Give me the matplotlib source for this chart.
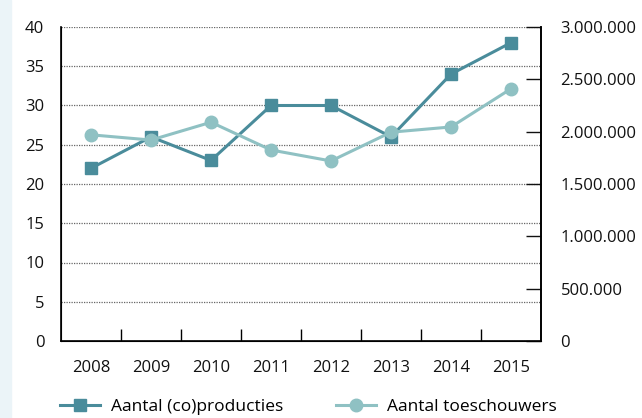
import matplotlib.pyplot as plt
from matplotlib.ticker import FuncFormatter
from matplotlib.lines import Line2D

plt.rcParams['font.family'] = ['Open Sans', 'DejaVu Sans']

years = ['2008', '2009', '2010', '2011', '2012', '2013', '2014', '2015']
producties = [22, 26, 23, 30, 30, 26, 34, 38]
toeschouwers = [1970000, 1920000, 2090000, 1825000, 1720000, 1995000, 2045000, 2410000]

dark = '#4a8c9b'
light = '#8fc1c3'

fig = plt.figure(figsize=(6.42, 4.18), dpi=100)
# light strip on the left edge
fig.patches.append(plt.Rectangle((0, 0), 11 / 642, 1, transform=fig.transFigure,
                                 color='#ebf4f8', zorder=0))

ax = fig.add_axes([61 / 642, 1 - 341 / 418, 480 / 642, 314 / 418])
x = range(len(years))
ax.plot(x, producties, color=dark, lw=2.2, marker='s', ms=9, zorder=3)
ax.set_xlim(-0.5, 7.5)
ax.set_ylim(0, 40)
ax.set_yticks(range(0, 41, 5))
ax.yaxis.grid(True, linestyle=(0, (1, 1)), color='#666666', lw=0.9)
ax.set_axisbelow(True)
ax.tick_params(axis='y', length=0, pad=12, labelsize=12, colors='#111111')
ax.set_xticks(x)
ax.set_xticklabels(years)
ax.set_xticks([i + 0.5 for i in range(7)], minor=True)
ax.tick_params(axis='x', which='major', length=0, pad=14, labelsize=12, colors='#111111')
ax.tick_params(axis='x', which='minor', length=9, direction='in', width=1)
ax.spines['top'].set_visible(False)
for s in ['left', 'bottom', 'right']:
    ax.spines[s].set_linewidth(1.2)

ax2 = ax.twinx()
ax2.plot(x, toeschouwers, color=light, lw=2.2, marker='o', ms=9, zorder=3)
ax2.set_ylim(0, 3000000)
ax2.set_yticks(range(0, 3000001, 500000))
ax2.yaxis.set_major_formatter(FuncFormatter(lambda v, p: f'{int(v):,}'.replace(',', '.')))
ax2.tick_params(axis='y', direction='in', length=11, width=1, pad=14, labelsize=12,
                colors='#111111')
ax2.spines['top'].set_visible(False)
ax2.spines['right'].set_linewidth(1.2)

handles = [Line2D([], [], color=dark, lw=2.2, marker='s', ms=9),
           Line2D([], [], color=light, lw=2.2, marker='o', ms=9)]
fig.legend(handles, ['Aantal (co)producties', 'Aantal toeschouwers'],
           loc='center left', bbox_to_anchor=(53 / 642, 1 - 407 / 418), ncol=2,
           frameon=False, fontsize=12.5, handlelength=2.3, handletextpad=0.63,
           columnspacing=3.05, borderaxespad=0)

fig.savefig('out.png', dpi=100)
